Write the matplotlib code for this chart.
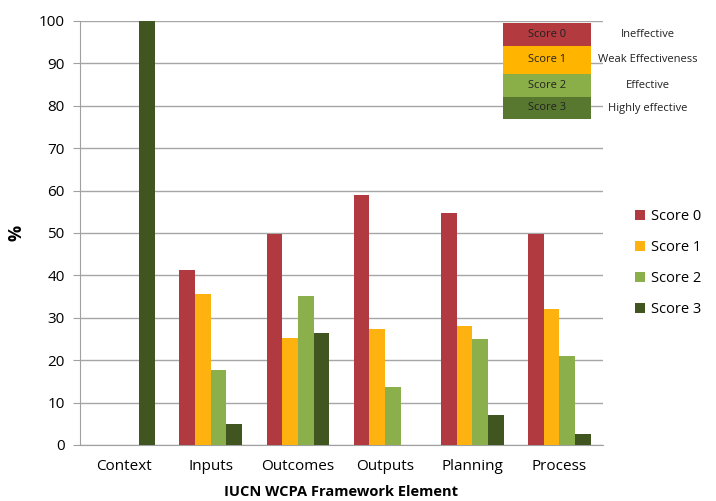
import numpy as np
import matplotlib.pyplot as plt
from matplotlib.patches import Rectangle

plt.rcParams["font.family"] = ["Open Sans", "DejaVu Sans"]

# Data
elements = ["Context", "Inputs", "Outcomes", "Outputs", "Planning", "Process"]
score_labels = ["Score 0", "Score 1", "Score 2", "Score 3"]
score0 = [0, 41.3, 49.7, 59.0, 54.6, 49.7]
score1 = [0, 35.7, 25.3, 27.3, 28.1, 32.0]
score2 = [0, 17.7, 35.2, 13.6, 25.0, 21.0]
score3 = [100, 4.9, 26.3, 0, 7.0, 2.5]
descriptions = ["Ineffective", "Weak Effectiveness", "Effective", "Highly effective"]

colors = ["#B03A3F", "#FDB20F", "#8BAF4A", "#40551F"]
box_colors = ["#B33A3E", "#FFB400", "#8BAF48", "#58782F"]

fig = plt.figure(figsize=(7.16, 5.01), dpi=100)
ax = fig.add_axes([80 / 716, 1 - 445 / 501, 523 / 716, 424 / 501])

x = np.arange(len(elements))
width = 0.18
series = [score0, score1, score2, score3]
for i, vals in enumerate(series):
    ax.bar(x + (i - 1.5) * width, vals, width, color=colors[i],
           label=score_labels[i], zorder=3)

ax.set_xlim(-0.5, len(elements) - 0.5)
ax.set_ylim(0, 100)
ax.set_yticks(np.arange(0, 101, 10))
ax.set_xticks(x)
ax.set_xticklabels(elements)
ax.tick_params(axis="y", length=5, color="#A0A0A0", labelsize=11, pad=6)
ax.tick_params(axis="x", length=0, labelsize=11, pad=10)
ax.grid(axis="y", color="#A6A6A6", linewidth=1, zorder=0)
for side in ["top", "right"]:
    ax.spines[side].set_visible(False)
ax.spines["left"].set_color("#A0A0A0")
ax.spines["bottom"].set_color("#A0A0A0")

ax.set_ylabel("%", fontsize=13, fontweight="bold")
ax.yaxis.set_label_coords(-0.105, 0.5)
ax.set_xlabel("IUCN WCPA Framework Element", fontsize=10.5, fontweight="bold",
              labelpad=8)

# Legend on the right
fig.legend(loc="center left", bbox_to_anchor=(622 / 716, 1 - 263 / 501),
           frameon=False, fontsize=10.5, handlelength=0.7, handleheight=0.7,
           handletextpad=0.4, labelspacing=1.1)

# Score key table at top right
row_edges = [23, 46, 74, 97, 119]
bx0, bx1 = 503, 591
for i in range(4):
    y_top, y_bot = row_edges[i], row_edges[i + 1]
    rect = Rectangle((bx0 / 716, 1 - y_bot / 501), (bx1 - bx0) / 716,
                     (y_bot - y_top) / 501, transform=fig.transFigure,
                     facecolor=box_colors[i], edgecolor="none", zorder=5)
    fig.add_artist(rect)
    yc = 1 - (y_top + y_bot) / 2 / 501
    fig.text((bx0 + bx1) / 2 / 716, yc, score_labels[i], ha="center",
             va="center", fontsize=8, color="#222222", zorder=6)
    fig.text(648 / 716, yc, descriptions[i], ha="center", va="center",
             fontsize=8, color="#222222")

fig.savefig("out.png", dpi=100)
